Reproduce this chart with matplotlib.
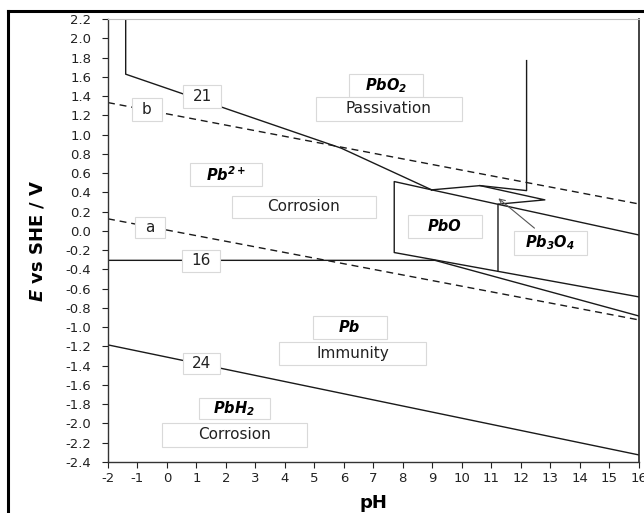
import matplotlib
matplotlib.use("Agg")
import matplotlib.pyplot as plt
import numpy as np
from matplotlib.lines import Line2D
from matplotlib.patches import Rectangle

plt.rcParams["font.family"] = ["DejaVu Sans"]
plt.rcParams["axes.unicode_minus"] = False
plt.rcParams["mathtext.fontset"] = "custom"
plt.rcParams["mathtext.rm"] = "DejaVu Sans:bold:italic"
plt.rcParams["mathtext.it"] = "DejaVu Sans:bold:italic"
plt.rcParams["mathtext.bf"] = "DejaVu Sans:bold:italic"

# ---- boundary lines (pH, E / V)
line21_ph = [-1.40, -1.40, 5.91, 8.98]
line21_E = [2.2, 1.627, 0.859, 0.426]
pbo_ph = [8.98, 7.71, 7.71, 16.0]
pbo_E = [0.426, 0.512, -0.225, -0.685]
upper_ph = [8.98, 16.0]
upper_E = [0.426, -0.042]
pb3o4_ph = [8.98, 10.62, 12.20, 12.20]
pb3o4_E = [0.426, 0.470, 0.418, 1.768]
tri_ph = [10.62, 12.82, 11.23, 11.23]
tri_E = [0.470, 0.322, 0.277, -0.42]
line16_ph = [-2.0, 9.09, 16.0]
line16_E = [-0.306, -0.306, -0.883]
line24_ph = [-2.0, 16.0]
line24_E = [-1.184, -2.326]
b_ph = [-2.0, 16.0]
b_E = [1.332, 0.280]
a_ph = [-2.0, 16.0]
a_E = [0.125, -0.924]

# ---- labelled boxes: text, centre pH, centre E, width, height, style
box_text = ["21", "b", "a", "16", "24",
            "PbO$_2$", "Passivation", "Pb$^{2+}$", "Corrosion",
            "PbO", "Pb$_3$O$_4$", "Pb", "Immunity", "PbH$_2$", "Corrosion"]
box_ph = [1.19, -0.68, -0.575, 1.155, 1.17,
          7.43, 7.53, 2.0, 4.64,
          9.43, 13.0, 6.2, 6.3, 2.29, 2.29]
box_E = [1.397, 1.262, 0.036, -0.312, -1.376,
         1.51, 1.267, 0.588, 0.249,
         0.047, -0.125, -1.0, -1.27, -1.843, -2.118]
box_w = [1.29, 1.02, 1.02, 1.29, 1.26,
         2.51, 4.95, 2.44, 4.9,
         2.5, 2.47, 2.51, 5.0, 2.41, 4.9]
box_h = [0.24, 0.24, 0.22, 0.23, 0.22,
         0.24, 0.25, 0.24, 0.23,
         0.24, 0.25, 0.24, 0.24, 0.22, 0.25]
box_species = [False, False, False, False, False,
               True, False, True, False,
               True, True, True, False, True, False]

fig = plt.figure(figsize=(6.44, 5.13), dpi=100)
ax = fig.add_axes([108 / 644, 1 - 462 / 513, (638.6 - 108) / 644, (462 - 19) / 513])

lc = "#1a1a1a"
for xs, ys in [(line21_ph, line21_E), (pbo_ph, pbo_E), (upper_ph, upper_E),
               (pb3o4_ph, pb3o4_E), (tri_ph, tri_E), (line16_ph, line16_E),
               (line24_ph, line24_E)]:
    ax.plot(xs, ys, color=lc, lw=1.0, zorder=2)
for xs, ys in [(b_ph, b_E), (a_ph, a_E)]:
    ax.plot(xs, ys, color=lc, lw=1.0, ls=(0, (5, 3.5)), zorder=2)

for t, x, y, w, h, sp in zip(box_text, box_ph, box_E, box_w, box_h, box_species):
    ax.add_patch(Rectangle((x - w / 2, y - h / 2), w, h, facecolor="white",
                           edgecolor="#d9d9d9", lw=0.8, zorder=3))
    if sp:
        ax.text(x, y, t, ha="center", va="center", fontsize=10.5,
                fontweight="bold", fontstyle="italic", zorder=4)
    else:
        ax.text(x, y, t, ha="center", va="center", fontsize=11,
                color="#222222", zorder=4)

ax.annotate("", xy=(11.17, 0.356), xytext=(12.54, 0.01),
            arrowprops=dict(arrowstyle="->", color="#555555", lw=0.8), zorder=5)

ax.set_xlim(-2, 16)
ax.set_ylim(-2.4, 2.2)
yt = np.round(np.arange(-2.4, 2.21, 0.2), 1)
ax.set_xticks(np.arange(-2, 17, 1))
ax.set_yticks(yt)
ax.set_yticklabels([f"{v:.1f}" for v in yt])
ax.tick_params(direction="out", length=4, width=0.8, labelsize=9.5,
               colors="#222222")
ax.tick_params(axis="y", pad=8)
for s in ["left", "bottom"]:
    ax.spines[s].set_color("#333333")
    ax.spines[s].set_linewidth(1.0)
ax.spines["top"].set_color("#bfbfbf")
ax.spines["top"].set_linewidth(0.8)
ax.spines["right"].set_color("#222222")
ax.spines["right"].set_linewidth(1.2)

ax.set_xlabel("pH", fontsize=13, fontweight="bold", labelpad=6)
ax.set_ylabel("$E$ vs SHE / V", fontsize=13, fontweight="bold", labelpad=14)

# outer frame of the figure (cut at the right and bottom)
fig.add_artist(Line2D([8 / 644, 8 / 644], [0, 1 - 11 / 513],
                      transform=fig.transFigure, color="black", lw=2.2))
fig.add_artist(Line2D([8 / 644, 1], [1 - 11 / 513, 1 - 11 / 513],
                      transform=fig.transFigure, color="black", lw=2.2))

fig.savefig("out.png", dpi=100)
